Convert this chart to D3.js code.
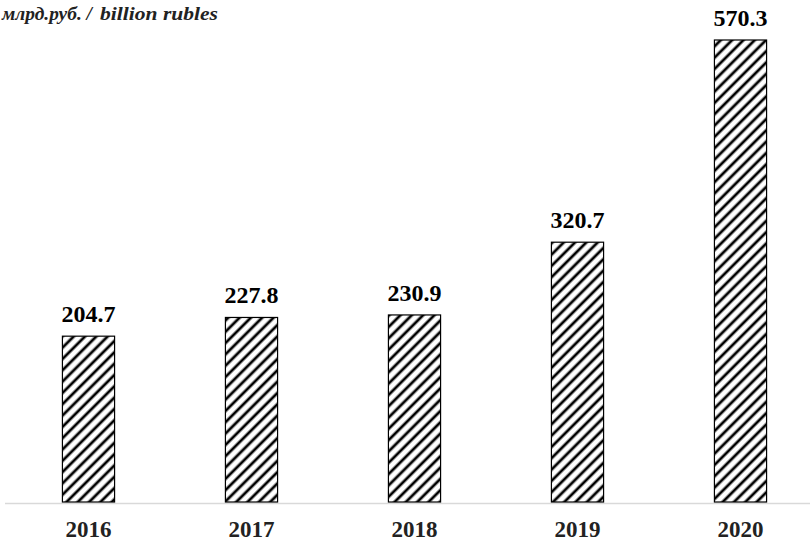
<!DOCTYPE html>
<html>
<head>
<meta charset="utf-8">
<script src="https://cdn.jsdelivr.net/npm/d3@7"></script>
<style>
  html, body { margin: 0; padding: 0; background: #fff; }
  svg { display: block; }
</style>
</head>
<body>
<svg id="chart" width="810" height="547"></svg>
<script>
// Volumes by year, billion rubles
const years = ["2016", "2017", "2018", "2019", "2020"];
const values = [204.7, 227.8, 230.9, 320.7, 570.3];
const unitRu = "млрд.руб. /";
const unitEn = "billion rubles";

const W = 810, H = 547;
const svg = d3.select("#chart");
const serif = "'Liberation Serif', 'Times New Roman', serif";

const x = d3.scaleBand()
  .domain(years)
  .range([7, 822])
  .paddingInner(0.68)
  .paddingOuter(0.34);

const y = d3.scaleLinear()
  .domain([0, 570.3])
  .range([502, 40]);

// diagonal hatch fill
const defs = svg.append("defs");
const pat = defs.append("pattern")
  .attr("id", "hatch")
  .attr("patternUnits", "userSpaceOnUse")
  .attr("width", 8)
  .attr("height", 8)
  .attr("patternTransform", "rotate(45)");
pat.append("rect").attr("width", 8).attr("height", 8).attr("fill", "#fff");
pat.append("line")
  .attr("x1", 2).attr("y1", 0).attr("x2", 2).attr("y2", 8)
  .attr("stroke", "#000").attr("stroke-width", 2.8);

// baseline
svg.append("line")
  .attr("x1", 5).attr("x2", W)
  .attr("y1", 503.5).attr("y2", 503.5)
  .attr("stroke", "#d9d9d9").attr("stroke-width", 1.5);

// bars
svg.selectAll("rect.bar")
  .data(years)
  .join("rect")
  .attr("class", "bar")
  .attr("x", d => x(d))
  .attr("width", x.bandwidth())
  .attr("y", (d, i) => y(values[i]))
  .attr("height", (d, i) => y(0) - y(values[i]))
  .attr("fill", "url(#hatch)")
  .attr("stroke", "#000")
  .attr("stroke-width", 1.2);

// value labels
svg.selectAll("text.val")
  .data(years)
  .join("text")
  .attr("class", "val")
  .attr("x", d => x(d) + x.bandwidth() / 2)
  .attr("y", (d, i) => y(values[i]) - 14)
  .attr("text-anchor", "middle")
  .attr("font-family", serif)
  .attr("font-weight", "bold")
  .attr("font-size", 24)
  .attr("fill", "#000")
  .text((d, i) => values[i].toFixed(1));

// year labels
const xAxis = svg.append("g")
  .attr("transform", "translate(0,503)")
  .call(d3.axisBottom(x).tickSize(0).tickPadding(18));
xAxis.select(".domain").remove();
xAxis.selectAll("text")
  .attr("font-family", serif)
  .attr("font-weight", "bold")
  .attr("font-size", 23)
  .attr("fill", "#222");

// unit caption
const cap = svg.append("g")
  .attr("font-family", serif)
  .attr("font-weight", "bold")
  .attr("font-style", "italic")
  .attr("font-size", 19.5)
  .attr("fill", "#222");
cap.append("text")
  .attr("x", 2)
  .attr("y", 20)
  .attr("textLength", 90)
  .attr("lengthAdjust", "spacingAndGlyphs")
  .text(unitRu);
cap.append("text")
  .attr("x", 100)
  .attr("y", 20)
  .attr("textLength", 118)
  .attr("lengthAdjust", "spacingAndGlyphs")
  .text(unitEn);
</script>
</body>
</html>
